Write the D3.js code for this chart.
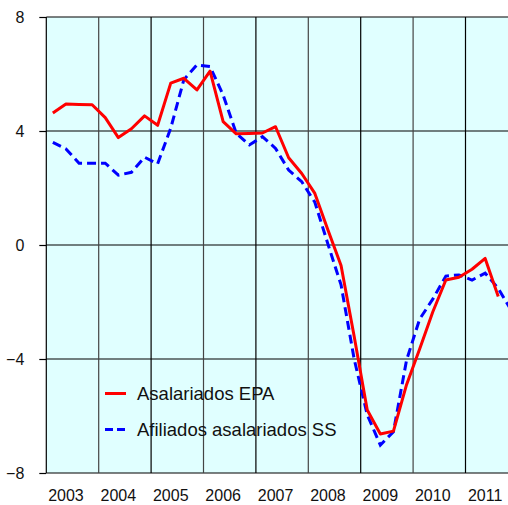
<!DOCTYPE html>
<html>
<head>
<meta charset="utf-8">
<script src="https://cdn.jsdelivr.net/npm/d3@7"></script>
<style>
  body { margin: 0; background: #fff; }
  svg { display: block; font-family: "Liberation Sans", Arial, sans-serif; }
</style>
</head>
<body>
<script>
// quarterly series, 2003Q1 onwards
var years = ["2003", "2004", "2005", "2006", "2007", "2008", "2009", "2010", "2011"];

var epa = [4.63, 4.95, 4.93, 4.92, 4.47, 3.77, 4.08, 4.53, 4.2, 5.68, 5.85, 5.44,
           6.1, 4.33, 3.9, 3.91, 3.93, 4.15, 3.06, 2.51, 1.81, 0.53, -0.72, -3.2,
           -5.79, -6.63, -6.53, -4.9, -3.65, -2.35, -1.23, -1.13, -0.85, -0.47, -1.81];

var ss = [3.6, 3.37, 2.87, 2.87, 2.87, 2.45, 2.55, 3.08, 2.85, 4.1, 5.8, 6.32,
          6.26, 5.26, 3.92, 3.51, 3.8, 3.39, 2.63, 2.22, 1.5, 0.03, -1.4, -4.0,
          -5.96, -7.02, -6.55, -4.04, -2.6, -1.9, -1.09, -1.05, -1.23, -0.99, -1.52, -2.3];

var yTicks = [-8, -4, 0, 4, 8];

var legendNames = ["Asalariados EPA", "Afiliados asalariados SS"];

var w = 508, h = 505;
var plotLeft = 46.3, plotTop = 17, plotBottom = 473;
var step = 13.1; // px per quarter

var svg = d3.select("body").append("svg")
    .attr("width", w)
    .attr("height", h);

// scales: x in quarters, gridlines at year boundaries
var xScale = d3.scaleLinear().domain([0, 36])
    .range([plotLeft, plotLeft + 36 * step]);

var yScale = d3.scaleLinear().domain([-8, 8])
    .range([plotBottom, plotTop]);

// plot background
svg.append("rect")
    .attr("x", plotLeft)
    .attr("y", plotTop)
    .attr("width", w - plotLeft)
    .attr("height", plotBottom - plotTop)
    .attr("fill", "#e0ffff");

// horizontal gridlines
svg.selectAll(".hgrid")
    .data(yTicks)
    .enter()
    .append("line")
    .attr("x1", plotLeft)
    .attr("x2", w)
    .attr("y1", function(d){ return yScale(d); })
    .attr("y2", function(d){ return yScale(d); })
    .attr("stroke", "#000")
    .attr("stroke-width", 1.2);

// vertical gridlines at year boundaries
svg.selectAll(".vgrid")
    .data(d3.range(0, 37, 4))
    .enter()
    .append("line")
    .attr("x1", function(d){ return xScale(d); })
    .attr("x2", function(d){ return xScale(d); })
    .attr("y1", plotTop)
    .attr("y2", plotBottom)
    .attr("stroke", function(d, i){ return i % 2 ? "#444" : "#000"; })
    .attr("stroke-width", 1.2);

// y axis
var yAxis = d3.axisLeft(yScale)
    .tickValues(yTicks)
    .tickSize(7)
    .tickPadding(15)
    .tickFormat(d3.format("d"));

var gy = svg.append("g")
    .attr("transform", "translate(" + plotLeft + ",0)")
    .call(yAxis);

gy.select(".domain").remove();
gy.selectAll("line").attr("stroke", "#000").attr("stroke-width", 1.2);
gy.selectAll("text")
    .attr("font-size", 16)
    .attr("fill", "#111")
    .attr("font-family", "Liberation Sans, Arial, sans-serif");

// x labels, placed under the second quarter of each year
svg.selectAll(".xlab")
    .data(years)
    .enter()
    .append("text")
    .attr("x", function(d, i){ return xScale(i * 4 + 1.5); })
    .attr("y", 501)
    .attr("text-anchor", "middle")
    .attr("font-size", 16)
    .attr("fill", "#111")
    .text(function(d){ return d; });

// lines
var line = d3.line()
    .x(function(d, i){ return xScale(i + 0.5); })
    .y(function(d){ return yScale(d); });

svg.append("path")
    .datum(ss)
    .attr("d", line)
    .attr("fill", "none")
    .attr("stroke", "#0000ff")
    .attr("stroke-width", 3)
    .attr("stroke-dasharray", "9,5");

svg.append("path")
    .datum(epa)
    .attr("d", line)
    .attr("fill", "none")
    .attr("stroke", "#ff0000")
    .attr("stroke-width", 3)
    .attr("stroke-linejoin", "round");

// legend
var legendStyles = [
    { color: "#ff0000", dash: null, y: 393.5 },
    { color: "#0000ff", dash: "8,4", y: 429.5 }
];

var legend = svg.selectAll(".legend")
    .data(legendNames)
    .enter()
    .append("g")
    .attr("transform", function(d, i){ return "translate(0," + legendStyles[i].y + ")"; });

legend.append("line")
    .attr("x1", 105)
    .attr("x2", 126)
    .attr("y1", 0)
    .attr("y2", 0)
    .attr("stroke", function(d, i){ return legendStyles[i].color; })
    .attr("stroke-width", 3)
    .attr("stroke-dasharray", function(d, i){ return legendStyles[i].dash; });

legend.append("text")
    .attr("x", 137)
    .attr("y", 6)
    .attr("font-size", 18.5)
    .attr("fill", "#111")
    .text(function(d){ return d; });
</script>
</body>
</html>
